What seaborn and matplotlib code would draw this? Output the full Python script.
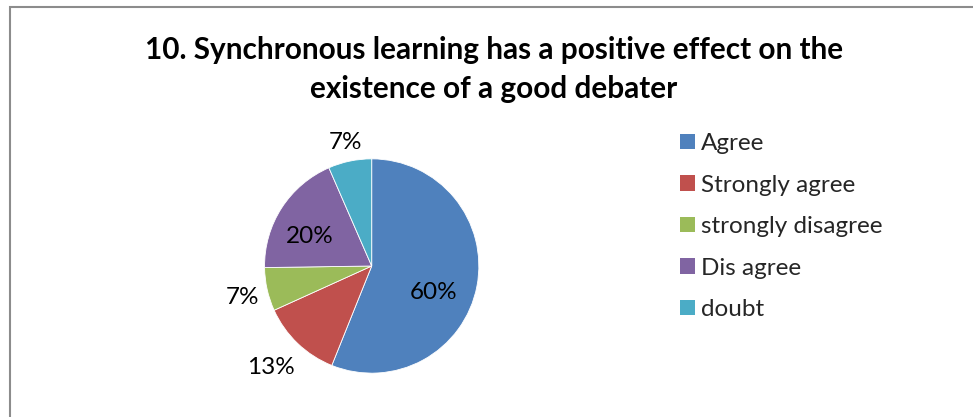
import matplotlib
matplotlib.use("Agg")
import numpy as np
import matplotlib.pyplot as plt
import seaborn as sns
from matplotlib.lines import Line2D
from matplotlib.patches import Patch

# Survey answers and their shares (%)
categories = ["Agree", "Strongly agree", "strongly disagree", "Dis agree", "doubt"]
percentages = [60, 13, 7, 20, 7]
slice_colors = ["#4F81BD", "#C0504D", "#9BBB59", "#8064A2", "#4BACC6"]
title_lines = ["10. Synchronous learning has a positive effect on the",
               "existence of a good debater"]

# Label placement per slice: radial distance (in radii) and angular nudge (deg)
label_dist = [0.63, 1.34, 1.24, 0.64, 1.18]
label_nudge = [-11.8, -1.0, 1.0, 7.4, 0.0]

sns.set_theme(style="white")
plt.rcParams["font.family"] = ["Lato", "DejaVu Sans"]

W, H = 973, 417
fig = plt.figure(figsize=(W / 100, H / 100), dpi=100)
fig.patch.set_facecolor("white")

# Pie axes: 300x300 px box centred on the pie
cx, cy, box = 371.7, 266, 300
ax = fig.add_axes([(cx - box / 2) / W, (H - cy - box / 2) / H, box / W, box / H])
wedges, _ = ax.pie(percentages, colors=slice_colors, startangle=90,
                   counterclock=False, radius=1.0,
                   wedgeprops=dict(edgecolor="white", linewidth=0.6))
ax.set_xlim(-1.4, 1.4)
ax.set_ylim(-1.4, 1.4)
ax.set_aspect("equal")
ax.axis("off")

for w, pct, d, nudge in zip(wedges, percentages, label_dist, label_nudge):
    mid = np.deg2rad((w.theta1 + w.theta2) / 2 + nudge)
    ax.text(d * np.cos(mid), d * np.sin(mid), f"{pct}%",
            ha="center", va="center", fontsize=17.5, color="black")

# Legend with square swatches
handles = [Patch(facecolor=c, edgecolor="none") for c in slice_colors]
fig.legend(handles, categories, loc="upper left",
           bbox_to_anchor=(679.5 / W, 1 - 133 / H), frameon=False,
           fontsize=17.5, handlelength=0.62, handleheight=0.62,
           handletextpad=0.27, labelspacing=0.845,
           borderpad=0, borderaxespad=0)

# Two-line bold title
for txt, base in zip(title_lines, [59, 98]):
    fig.text(494 / W, 1 - base / H, txt, ha="center", va="baseline",
             fontsize=21.4, fontweight="bold", color="black")

# Chart frame (top and left edges)
frame_col = "#8c8c8c"
fig.add_artist(Line2D([10 / W, 10 / W, 1.0], [0.0, 1 - 7 / H, 1 - 7 / H],
                      transform=fig.transFigure, color=frame_col, lw=1.5,
                      solid_joinstyle="miter"))

fig.savefig("out.png", dpi=100, facecolor="white")
